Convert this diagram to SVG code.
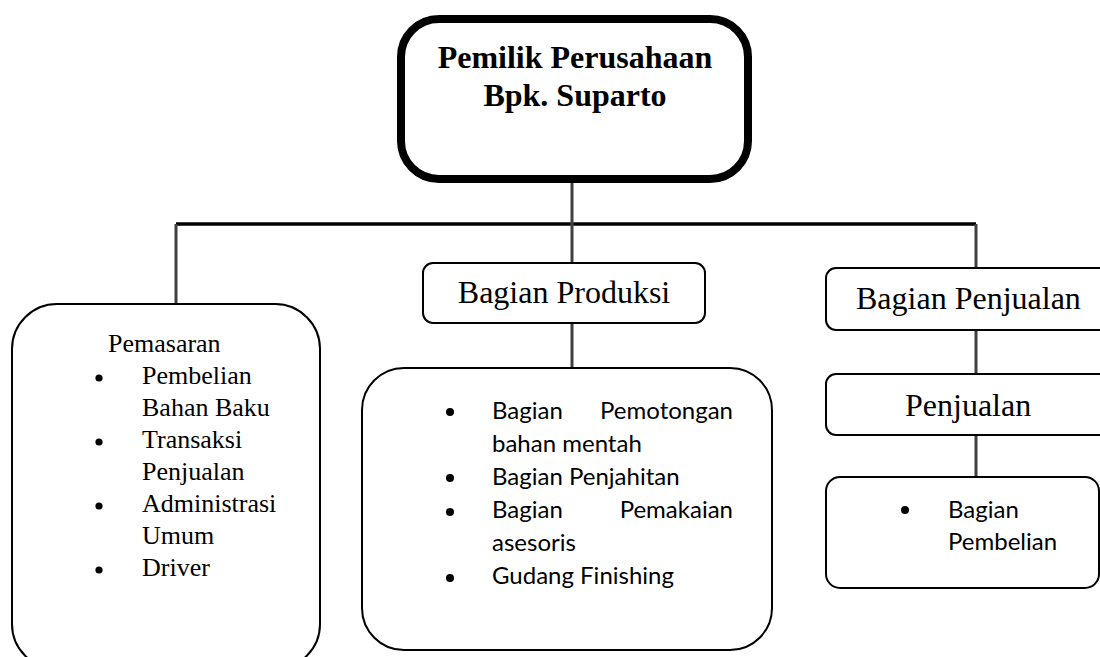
<svg xmlns="http://www.w3.org/2000/svg" width="1100" height="657" viewBox="0 0 1100 657">
<style>
.box{fill:#fff;stroke:#000;stroke-width:2}
.serif{font-family:"Liberation Serif","Times New Roman",serif;fill:#000}
.sans{font-family:Lato,"Liberation Sans",sans-serif;font-size:24px;fill:#000}
.conn{stroke:#404040;stroke-width:3;fill:none}
</style>
<rect width="1100" height="657" fill="#fff"/>
<g id="connectors">
<line x1="176" y1="224" x2="976" y2="224" stroke="#000" stroke-width="3.5"/>
<line class="conn" x1="176" y1="224" x2="176" y2="304"/>
<line class="conn" x1="572" y1="182" x2="572" y2="263"/>
<line class="conn" x1="976" y1="224" x2="976" y2="268"/>
<line class="conn" x1="572" y1="323" x2="572" y2="368"/>
<line class="conn" x1="976" y1="330" x2="976" y2="374"/>
<line class="conn" x1="976" y1="435" x2="976" y2="477"/>
</g>
<g id="owner">
<rect x="401" y="19" width="347" height="160" rx="38" fill="#fff" stroke="#000" stroke-width="8"/>
<text class="serif" x="575" y="68" font-size="32" font-weight="bold" text-anchor="middle">Pemilik Perusahaan</text>
<text class="serif" x="575" y="106" font-size="32" font-weight="bold" text-anchor="middle">Bpk. Suparto</text>
</g>
<g id="pemasaran">
<rect class="box" x="12" y="304" width="308" height="365" rx="45"/>
<g class="serif" font-size="26">
<text x="108" y="352">Pemasaran</text>
<text x="142" y="384">Pembelian</text>
<text x="142" y="416">Bahan Baku</text>
<text x="142" y="448">Transaksi</text>
<text x="142" y="480">Penjualan</text>
<text x="142" y="512">Administrasi</text>
<text x="142" y="544">Umum</text>
<text x="142" y="576">Driver</text>
</g>
<circle cx="99" cy="378" r="3.6"/>
<circle cx="99" cy="442" r="3.6"/>
<circle cx="99" cy="506" r="3.6"/>
<circle cx="99" cy="570" r="3.6"/>
</g>
<g id="bagian-produksi">
<rect class="box" x="423" y="263" width="282" height="60" rx="10"/>
<text class="serif" x="564" y="303" font-size="32" text-anchor="middle">Bagian Produksi</text>
</g>
<g id="produksi-detail">
<rect class="box" x="362" y="368" width="410" height="282" rx="42"/>
<g class="sans">
<text x="492" y="419">Bagian</text>
<text x="733" y="419" text-anchor="end">Pemotongan</text>
<text x="492" y="452">bahan mentah</text>
<text x="492" y="485">Bagian Penjahitan</text>
<text x="492" y="518">Bagian</text>
<text x="733" y="518" text-anchor="end">Pemakaian</text>
<text x="492" y="551">asesoris</text>
<text x="492" y="584">Gudang Finishing</text>
</g>
<circle cx="450" cy="412" r="4"/>
<circle cx="450" cy="478" r="4"/>
<circle cx="450" cy="512" r="4"/>
<circle cx="450" cy="578" r="4"/>
</g>
<g id="bagian-penjualan">
<rect class="box" x="826" y="268" width="290" height="62" rx="10"/>
<text class="serif" x="856" y="309" font-size="32">Bagian Penjualan</text>
</g>
<g id="penjualan">
<rect class="box" x="826" y="374" width="290" height="61" rx="10"/>
<text class="serif" x="905" y="416" font-size="32">Penjualan</text>
</g>
<g id="pembelian">
<rect class="box" x="826" y="477" width="273" height="111" rx="14"/>
<circle cx="905" cy="510" r="4"/>
<g class="sans">
<text x="948" y="518">Bagian</text>
<text x="948" y="550">Pembelian</text>
</g>
</g>
</svg>
